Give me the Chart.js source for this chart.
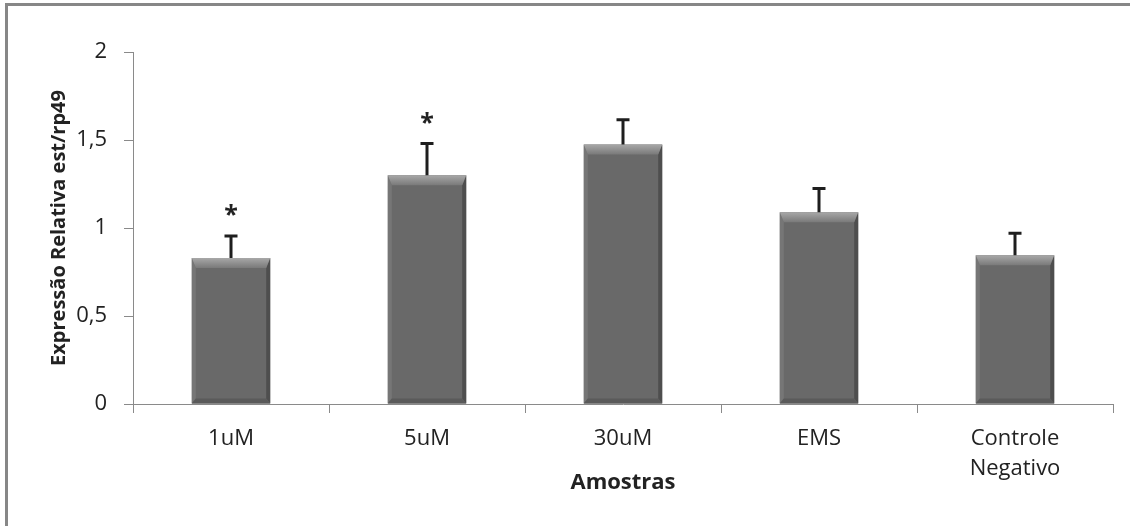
<!DOCTYPE html>
<html lang="pt">
<head>
<meta charset="utf-8">
<title>Expressão Relativa est/rp49</title>
<script src="https://cdn.jsdelivr.net/npm/chart.js@4/dist/chart.umd.min.js"></script>
<style>
  html, body { margin: 0; padding: 0; background: #ffffff; }
  #wrap { position: relative; width: 1130px; height: 526px; }
</style>
</head>
<body>
<div id="wrap"><canvas id="chart" width="1130" height="526"></canvas></div>
<script>
// Sample groups along the x axis
const categories = ['1uM', '5uM', '30uM', 'EMS', ['Controle', 'Negativo']];
// Mean relative expression (est / rp49)
const expression = [0.83, 1.30, 1.475, 1.09, 0.845];
// Upper error (standard deviation) for each group
const errorUp = [0.125, 0.18, 0.14, 0.135, 0.125];
// Significance markers shown above the error bars
const significance = ['*', '*', '', '', ''];
// Y axis tick values
const yTicks = [0, 0.5, 1, 1.5, 2];

const FONT = '"Open Sans", "Noto Sans", sans-serif';

// White page with a grey frame on top and left
const framePlugin = {
  id: 'frame',
  beforeDraw(chart) {
    const ctx = chart.ctx;
    ctx.save();
    ctx.fillStyle = '#ffffff';
    ctx.fillRect(0, 0, chart.width, chart.height);
    ctx.fillStyle = '#878787';
    ctx.fillRect(5, 3, chart.width - 5, 3);
    ctx.fillRect(5, 3, 3, chart.height - 3);
    ctx.restore();
  }
};

// Bevelled shading on each bar, error bars and significance stars
const barDecor = {
  id: 'barDecor',
  afterDatasetsDraw(chart) {
    const ctx = chart.ctx;
    const meta = chart.getDatasetMeta(0);
    const yScale = chart.scales.y;
    ctx.save();
    meta.data.forEach((bar, i) => {
      const half = bar.width / 2;
      const x0 = bar.x - half, x1 = bar.x + half;
      const y0 = bar.y, y1 = bar.base;
      const s = 4, t = 10, b = 5;
      const poly = (pts, fill) => {
        ctx.beginPath();
        ctx.moveTo(pts[0][0], pts[0][1]);
        for (let k = 1; k < pts.length; k++) ctx.lineTo(pts[k][0], pts[k][1]);
        ctx.closePath();
        ctx.fillStyle = fill;
        ctx.fill();
      };
      poly([[x0, y0], [x0 + s, y0 + t], [x0 + s, y1 - b], [x0, y1]], '#767676');
      poly([[x1, y0], [x1 - s, y0 + t], [x1 - s, y1 - b], [x1, y1]], '#4e4e4e');
      poly([[x0, y1], [x1, y1], [x1 - s, y1 - b], [x0 + s, y1 - b]], '#5a5a5a');
      const g = ctx.createLinearGradient(0, y0, 0, y0 + t);
      g.addColorStop(0, '#a8a8a8');
      g.addColorStop(1, '#7a7a7a');
      poly([[x0, y0], [x1, y0], [x1 - s, y0 + t], [x0 + s, y0 + t]], g);

      // error bar (upper only)
      const yTop = yScale.getPixelForValue(expression[i] + errorUp[i]);
      ctx.strokeStyle = '#1e1e1e';
      ctx.lineWidth = 3;
      ctx.beginPath();
      ctx.moveTo(bar.x, y0);
      ctx.lineTo(bar.x, yTop);
      ctx.moveTo(bar.x - 6.5, yTop);
      ctx.lineTo(bar.x + 6.5, yTop);
      ctx.stroke();

      if (significance[i]) {
        ctx.fillStyle = '#222222';
        ctx.font = 'bold 25px ' + FONT;
        ctx.textAlign = 'center';
        ctx.textBaseline = 'middle';
        ctx.fillText(significance[i], bar.x, yTop - 20);
      }
    });
    ctx.restore();
  }
};

new Chart(document.getElementById('chart'), {
  type: 'bar',
  data: {
    labels: categories,
    datasets: [{
      data: expression,
      backgroundColor: '#696969',
      borderWidth: 0,
      categoryPercentage: 1,
      barPercentage: 0.4
    }]
  },
  options: {
    responsive: false,
    animation: false,
    devicePixelRatio: 1,
    layout: { padding: { top: 52, right: 17, left: 0, bottom: 0 } },
    plugins: { legend: { display: false }, tooltip: { enabled: false } },
    scales: {
      x: {
        afterFit(scale) { scale.height = 122; },
        border: { display: true, color: '#8a8a8a', width: 1 },
        grid: { display: true, offset: true, drawOnChartArea: false, drawTicks: true, tickLength: 9, color: '#8a8a8a' },
        ticks: { color: '#222222', font: { family: FONT, size: 22, lineHeight: 1.4 }, padding: 10, maxRotation: 0, autoSkip: false },
        title: { display: true, text: 'Amostras', color: '#222222', font: { family: FONT, size: 22, weight: 'bold' }, padding: { top: 0, bottom: 30 } }
      },
      y: {
        min: 0,
        max: 2,
        afterFit(scale) { scale.width = 133; },
        afterBuildTicks(scale) { scale.ticks = yTicks.map(v => ({ value: v })); },
        border: { display: true, color: '#8a8a8a', width: 1 },
        grid: { display: true, drawOnChartArea: false, drawTicks: true, tickLength: 9, color: '#8a8a8a' },
        ticks: {
          color: '#222222',
          font: { family: FONT, size: 22 },
          padding: 17,
          callback: (v) => String(v).replace('.', ',')
        },
        title: { display: true, text: 'Expressão Relativa est/rp49', color: '#222222', font: { family: FONT, size: 20, weight: 'bold' }, padding: { top: 47, bottom: 0 } }
      }
    }
  },
  plugins: [framePlugin, barDecor]
});
</script>
</body>
</html>
